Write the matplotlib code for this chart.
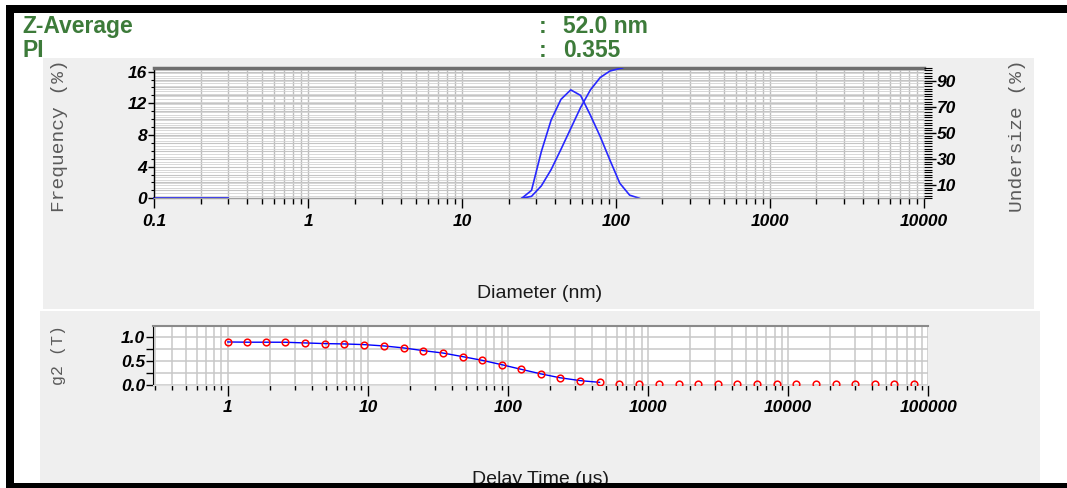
import matplotlib
matplotlib.use('Agg')
import matplotlib.pyplot as plt
from matplotlib.patches import Rectangle
from matplotlib.ticker import FixedLocator, MultipleLocator, NullFormatter, LogLocator

W, H = 1067, 488

# ---------------- data ----------------
size_nm = [24.36, 28.21, 32.67, 37.84, 43.82, 50.75, 58.77, 68.06, 78.82, 91.28, 105.7, 122.4, 141.8]
freq_pct = [0.0, 1.0, 5.9, 9.9, 12.5, 13.7, 13.0, 10.5, 7.8, 4.8, 1.9, 0.4, 0.0]
under_nm = [24.36, 28.21, 32.67, 37.84, 43.82, 50.75, 58.77, 68.06, 78.82, 91.28, 105.7, 110.0]
undersize_pct = [0.0, 1.5, 9.5, 22.0, 37.5, 53.5, 69.5, 83.0, 92.5, 97.5, 99.4, 99.8]
base_nm = [0.1, 0.2, 0.3]
base_pct = [0.0, 0.0, 0.0]

delay_us = [1.0, 1.38, 1.88, 2.56, 3.56, 4.95, 6.8, 9.4, 13.1, 18.1, 24.9, 34.2,
            47.6, 65.3, 90.3, 124, 172, 235, 329, 451, 625, 867, 1197, 1660,
            2286, 3148, 4318, 5987, 8262, 11430, 15780, 21890, 30000, 41590,
            57410, 79600]
g2_vals = [0.89, 0.885, 0.885, 0.884, 0.87, 0.856, 0.849, 0.835, 0.807, 0.766,
           0.71, 0.662, 0.586, 0.511, 0.42, 0.325, 0.23, 0.15, 0.09, 0.055,
           0.012, 0.012, 0.012, 0.012, 0.012, 0.012, 0.012, 0.012, 0.012, 0.012,
           0.012, 0.012, 0.012, 0.012, 0.012, 0.012]
n_fit = 20

diam_ticks = [0.1, 1, 10, 100, 1000, 10000]
diam_labels = ['0.1', '1', '10', '100', '1000', '10000']
freq_ticks = [0, 4, 8, 12, 16]
under_ticks = [10, 30, 50, 70, 90]
delay_ticks = [1, 10, 100, 1000, 10000, 100000]
delay_labels = ['1', '10', '100', '1000', '10000', '100000']
g2_ticks = [0.0, 0.5, 1.0]
g2_labels = ['0.0', '0.5', '1.0']

GREEN = '#3d7b3a'
BLUE = '#2828ff'
TICKFONT = dict(family='Liberation Sans', weight='bold', style='italic', size=12.5)
LOGSUBS = LogLocator(base=10, subs=[2, 3, 4, 5, 6, 7, 8, 9], numticks=20)

fig = plt.figure(figsize=(W / 100, H / 100), dpi=100)
fig.patch.set_facecolor('white')


def rect(x0, y0, x1, y1, **kw):
    r = Rectangle((x0 / W, 1 - y1 / H), (x1 - x0) / W, (y1 - y0) / H,
                  transform=fig.transFigure, **kw)
    fig.add_artist(r)
    return r


def axrect(x0, y0, x1, y1):
    return [x0 / W, 1 - y1 / H, (x1 - x0) / W, (y1 - y0) / H]


def bare(ax):
    for s in ax.spines.values():
        s.set_visible(False)
    ax.tick_params(which='both', length=0, labelleft=False, labelbottom=False,
                   labelright=False, labeltop=False)


# ---------------- header ----------------
hdr = dict(fontsize=16.5, fontweight='bold', color=GREEN, family='Liberation Sans',
           va='baseline', zorder=1)
fig.text(22 / W, 1 - 33 / H, 'Z-Average', **hdr)
fig.text(539 / W, 1 - 33 / H, ':', **hdr)
fig.text(563 / W, 1 - 33 / H, '52.0 nm', **hdr)
fig.text(22 / W, 1 - 57 / H, 'PI', **hdr)
fig.text(539 / W, 1 - 57 / H, ':', **hdr)
fig.text(563 / W, 1 - 57 / H, '0.355', **hdr)

# ---------------- panels ----------------
panel1 = rect(43, 58, 1034, 309, fc='#efefef', ec='none', zorder=2)
panel2 = rect(40, 311, 1040, 488, fc='#efefef', ec='none', zorder=2)

# ---------------- top chart ----------------
TOP = axrect(154.3, 67.7, 924, 198.3)

# grid-only background axes (so no grid is drawn over the curves)
gA = fig.add_axes(TOP)
gA.set_zorder(3.0)
gA.set_facecolor('white')
gA.set_xscale('log')
gA.set_xlim(0.1, 10000)
gA.set_ylim(0, 100)
gA.yaxis.set_major_locator(MultipleLocator(2))
gA.xaxis.set_major_locator(FixedLocator(diam_ticks))
gA.xaxis.set_minor_locator(LOGSUBS)
gA.grid(axis='y', which='major', color='#d2d2d2', lw=0.6)
gA.grid(axis='x', which='both', color='#bdbdbd', lw=1.0)
bare(gA)

gB = fig.add_axes(TOP)
gB.set_zorder(3.1)
gB.patch.set_visible(False)
gB.set_ylim(0, 16.5)
gB.yaxis.set_major_locator(MultipleLocator(1))
gB.set_xticks([])
gB.grid(axis='y', which='major', color='#c4c4c4', lw=0.8)
bare(gB)

ax1 = fig.add_axes(TOP)
ax1r = ax1.twinx()
ax1.set_zorder(3.5)
ax1r.set_zorder(3.6)
ax1.patch.set_visible(False)
ax1r.patch.set_visible(False)

ax1.set_xscale('log')
ax1.set_xlim(0.1, 10000)
ax1.set_ylim(0, 16.5)
ax1r.set_ylim(0, 100)

ax1.xaxis.set_major_locator(FixedLocator(diam_ticks))
ax1.xaxis.set_minor_locator(LOGSUBS)
ax1.xaxis.set_minor_formatter(NullFormatter())
ax1.set_xticklabels(diam_labels, fontdict=TICKFONT)
ax1.set_yticks(freq_ticks)
ax1.set_yticklabels([str(v) for v in freq_ticks], fontdict=TICKFONT)
ax1.yaxis.set_minor_locator(MultipleLocator(1))
ax1.tick_params(axis='x', which='major', direction='out', length=7, width=1, pad=4, color='black')
ax1.tick_params(axis='x', which='minor', direction='out', length=4.3, width=1, color='black')
ax1.tick_params(axis='y', which='major', direction='out', length=4.3, width=1, pad=1)
ax1.tick_params(axis='y', which='minor', direction='out', length=2.2, width=0.8)

ax1r.set_yticks(under_ticks)
ax1r.set_yticklabels([str(v) for v in under_ticks], fontdict=TICKFONT)
ax1r.yaxis.set_minor_locator(MultipleLocator(2))
ax1r.tick_params(axis='y', which='major', direction='out', length=8.5, width=1, pad=0.5)
ax1r.tick_params(axis='y', which='minor', direction='out', length=5.5, width=0.8)

for s in ax1r.spines.values():
    s.set_visible(False)
ax1.spines['right'].set_visible(False)
ax1.spines['top'].set_color('#6e6e6e')
ax1.spines['top'].set_linewidth(2.5)
ax1.spines['left'].set_color('black')
ax1.spines['left'].set_linewidth(1)
ax1.spines['bottom'].set_color('#a0a0a0')
ax1.spines['bottom'].set_linewidth(1)

ax1r.plot(under_nm, undersize_pct, color=BLUE, lw=1.2)
ax1.plot(size_nm, freq_pct, color=BLUE, lw=1.2)
ax1.plot(base_nm, base_pct, color=BLUE, lw=1.4, clip_on=False)

# ---------------- bottom chart ----------------
ax2 = fig.add_axes(axrect(153.3, 326, 928.2, 385))
ax2.set_zorder(3)
ax2.set_facecolor('white')
ax2.set_xscale('log')
ax2.set_xlim(0.294, 100000)
ax2.set_ylim(0, 1.22)
ax2.xaxis.set_major_locator(FixedLocator(delay_ticks))
ax2.xaxis.set_minor_locator(LogLocator(base=10, subs=[2, 3, 4, 5, 6, 7, 8, 9], numticks=20))
ax2.xaxis.set_minor_formatter(NullFormatter())
ax2.set_xticklabels(delay_labels, fontdict=TICKFONT)
ax2.set_yticks(g2_ticks)
ax2.set_yticklabels(g2_labels, fontdict=TICKFONT)
ax2.yaxis.set_minor_locator(MultipleLocator(0.25))
ax2.tick_params(axis='x', which='major', direction='out', length=8, width=1, pad=3)
ax2.tick_params(axis='x', which='minor', direction='out', length=3.6, width=1)
ax2.tick_params(axis='y', which='both', direction='out', length=5, width=1, pad=1)
ax2.grid(axis='both', which='both', color='#c8c8c8', lw=1.1)
ax2.set_axisbelow(True)
ax2.spines['right'].set_visible(False)
ax2.spines['top'].set_color('#8a8a8a')
ax2.spines['top'].set_linewidth(1.5)
ax2.spines['left'].set_color('black')
ax2.spines['bottom'].set_color('#dddddd')
ax2.spines['bottom'].set_linewidth(0.8)

ax2.plot(delay_us[:n_fit], g2_vals[:n_fit], color='blue', lw=1.0, zorder=3)
ax2.plot(delay_us, g2_vals, 'o', mfc='none', mec='red', ms=4.8, mew=1.1, zorder=4)

# ---------------- axis titles ----------------
t1 = fig.text(60 / W, 1 - 136 / H, 'Frequency (%)', rotation=90, ha='center', va='center',
              family='Liberation Mono', fontsize=14, color='#5a5a5a', zorder=2.5)
t1.set_clip_path(panel1)
t2 = fig.text(1018 / W, 1 - 136 / H, 'Undersize (%)', rotation=90, ha='center', va='center',
              family='Liberation Mono', fontsize=14, color='#5a5a5a', zorder=2.5)
t2.set_clip_path(panel1)
fig.text(540 / W, 1 - 294 / H, 'Diameter (nm)', ha='center', va='center',
         family='Liberation Sans', fontsize=14, color='#1a1a1a', zorder=2.5)
fig.text(59 / W, 1 - 355 / H, 'g2 (T)', rotation=90, ha='center', va='center',
         family='Liberation Mono', fontsize=12, color='#5a5a5a', zorder=2.5)
fig.text(540 / W, 1 - 484.5 / H, 'Delay Time (us)', ha='center', va='baseline',
         family='Liberation Sans', fontsize=14, color='#1a1a1a', zorder=2.5)

# ---------------- black frame ----------------
rect(6, 5, 1067, 13, fc='black', ec='none', zorder=10)
rect(6, 5, 14, 488, fc='black', ec='none', zorder=10)
rect(6, 483, 1067, 488, fc='black', ec='none', zorder=10)

fig.savefig('out.png', dpi=100)
